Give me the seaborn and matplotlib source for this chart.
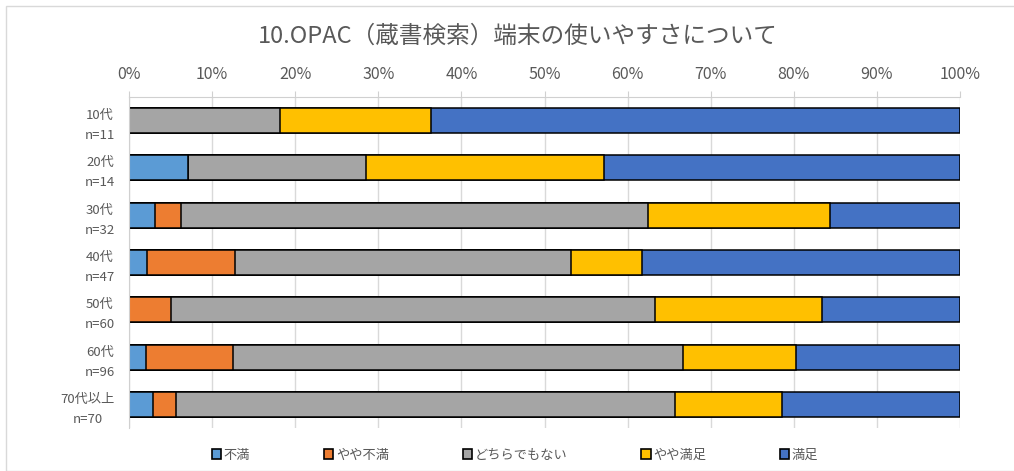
import numpy as np
import pandas as pd
import matplotlib
matplotlib.use("Agg")
import matplotlib.pyplot as plt
import matplotlib.patches as mpatches
import seaborn as sns

ages = ["10代\nn=11", "20代\nn=14", "30代\nn=32", "40代\nn=47",
        "50代\nn=60", "60代\nn=96", "70代以上\nn=70"]
answers = ["不満", "やや不満", "どちらでもない", "やや満足", "満足"]
colors = ["#5B9BD5", "#ED7D31", "#A5A5A5", "#FFC000", "#4472C4"]

# counts per answer
fuman = [0, 1, 1, 1, 0, 2, 2]
yaya_fuman = [0, 0, 1, 5, 3, 10, 2]
dochira = [2, 3, 18, 19, 35, 52, 42]
yaya_manzoku = [2, 4, 7, 4, 12, 13, 9]
manzoku = [7, 6, 5, 18, 10, 19, 15]

sns.set_style("white")
plt.rcParams["font.family"] = ["Noto Sans CJK JP", "DejaVu Sans"]

counts = pd.DataFrame(
    [fuman, yaya_fuman, dochira, yaya_manzoku, manzoku],
    index=answers, columns=ages).T
pct = counts.div(counts.sum(axis=1), axis=0) * 100
cum = pct.cumsum(axis=1)

fig = plt.figure(figsize=(10.14, 4.71), dpi=100)
ax = fig.add_axes([129 / 1014, 1 - 428 / 471, (960 - 129) / 1014, (428 - 97) / 471])

# draw from the last layer so shorter stacks sit on top
for ans, col in reversed(list(zip(answers, colors))):
    df = pd.DataFrame({"age": ages, "val": cum[ans].values})
    sns.barplot(data=df, x="val", y="age", orient="h", color=col,
                edgecolor="black", linewidth=1.1, width=0.53,
                saturation=1, ax=ax)

ax.set_xlim(0, 100)
ax.set_ylim(6.5, -0.5)
ax.set_xticks(np.arange(0, 101, 10))
ax.set_xticklabels([f"{v}%" for v in range(0, 101, 10)])
ax.xaxis.tick_top()
ax.tick_params(axis="x", colors="#d0d0d0", labelcolor="#595959",
               labelsize=11.5, length=4, pad=6)
ax.tick_params(axis="y", length=0, labelcolor="#595959", labelsize=9.5, pad=10)
for lbl in ax.get_yticklabels():
    lbl.set_linespacing(1.7)
    lbl.set_multialignment("center")
ax.set_xlabel("")
ax.set_ylabel("")
ax.grid(axis="x", color="#d9d9d9", linewidth=1)
ax.set_axisbelow(True)
for side in ["right", "bottom"]:
    ax.spines[side].set_visible(False)
ax.spines["top"].set_color("#d0d0d0")
ax.spines["left"].set_color("#d0d0d0")

fig.suptitle("10.OPAC（蔵書検索）端末の使いやすさについて",
             x=518 / 1014, y=1 - 36 / 471, va="center",
             fontsize=17, color="#595959")

handles = [mpatches.Patch(facecolor=c, edgecolor="black", linewidth=1.2)
           for c in colors]
fig.legend(handles, answers, loc="center", bbox_to_anchor=(0.508, 1 - 455 / 471),
           ncol=5, frameon=False, fontsize=9.5, labelcolor="#595959",
           handlelength=0.7, handleheight=0.7, handletextpad=0.2,
           columnspacing=5.6)

fig.patches.append(mpatches.Rectangle(
    (6 / 1014, 0), 1.0, 1 - 6 / 471, transform=fig.transFigure,
    fill=False, edgecolor="#d9d9d9", linewidth=1))

fig.savefig("out.png", dpi=100)
